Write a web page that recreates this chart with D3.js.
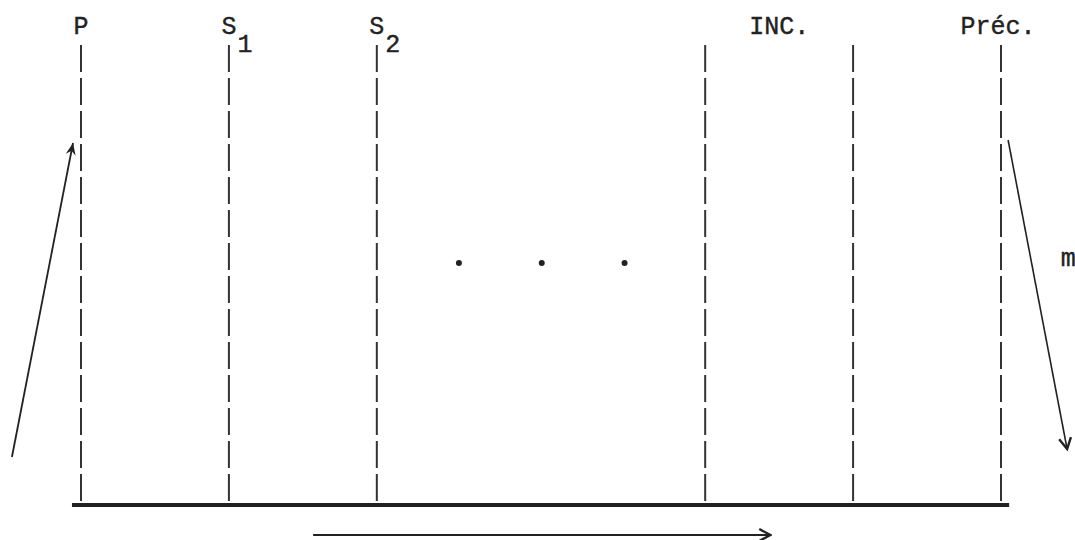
<!DOCTYPE html>
<html>
<head>
<meta charset="utf-8">
<script src="https://cdn.jsdelivr.net/npm/d3@7"></script>
<style>
  body { margin: 0; background: #fff; }
  text { font-family: "Liberation Mono", "Courier New", monospace; fill: #222; stroke: #222; stroke-width: 0.4; }
</style>
</head>
<body>
<div id="the_chart"></div>
<script>
// stage positions in slot units (0 = P), the gap after S2 holds the dots
var stageNames = ["P", "S", "S", "", "INC.", "Préc."];
var stageSubs = ["", "1", "2", "", "", ""];
var stageSlots = [0, 1, 2, 4.22, 5.22, 6.22];
var labelSlots = [0, 1, 2, 4.22, 4.72, 6.2];
var dotSlots = [2.555, 3.115, 3.675];
var dotLevel = 242;

// arrows: [x0, y0, x1, y1] in slot / height units
var arrowIn = [-0.467, 48, -0.054, 362];
var arrowOut = [6.268, 365, 6.667, 56];
var arrowTime = [1.569, -30, 4.66, -30];
var outLabel = "m";
var outLabelPos = [6.674, 239];

var w = 1075;
var h = 540;

var svg = d3.select("#the_chart")
    .append("svg")
    .attr("width", w)
    .attr("height", h);

var xscale = d3.scaleLinear()
    .domain([0, 6.22])
    .range([81, 1001]);

var yscale = d3.scaleLinear()
    .domain([0, 460])
    .range([505, 45]);

// arrow heads
var defs = svg.append("defs");
defs.append("marker")
    .attr("id", "head-fill")
    .attr("viewBox", "-13 -6 15 12")
    .attr("refX", 0).attr("refY", 0)
    .attr("markerWidth", 15).attr("markerHeight", 12)
    .attr("markerUnits", "userSpaceOnUse")
    .attr("orient", "auto")
    .append("path")
    .attr("d", "M0,0 L-12,-5 L-8,0 L-12,5 Z")
    .attr("fill", "#222");
defs.append("marker")
    .attr("id", "head-open")
    .attr("viewBox", "-13 -8 15 16")
    .attr("refX", 0).attr("refY", 0)
    .attr("markerWidth", 15).attr("markerHeight", 16)
    .attr("markerUnits", "userSpaceOnUse")
    .attr("orient", "auto")
    .append("path")
    .attr("d", "M-11,-6 L0,0 L-11,6")
    .attr("fill", "none")
    .attr("stroke", "#222")
    .attr("stroke-width", 2.4);

// dashed stage lines
svg.selectAll("line.stage")
    .data(stageSlots)
    .enter().append("line")
    .attr("class", "stage")
    .attr("x1", function(d) { return xscale(d); })
    .attr("x2", function(d) { return xscale(d); })
    .attr("y1", yscale(460))
    .attr("y2", yscale(0))
    .attr("stroke", "#333")
    .attr("stroke-width", 2)
    .attr("stroke-dasharray", "27,6");

// base line
svg.append("line")
    .attr("x1", xscale(-0.061))
    .attr("x2", xscale(6.275))
    .attr("y1", yscale(0))
    .attr("y2", yscale(0))
    .attr("stroke", "#222")
    .attr("stroke-width", 4);

// labels on top
var labels = svg.selectAll("g.lab")
    .data(stageNames)
    .enter().append("g")
    .attr("class", "lab");

labels.append("text")
    .attr("x", function(d, i) { return xscale(labelSlots[i]); })
    .attr("y", yscale(471))
    .attr("text-anchor", "middle")
    .attr("font-size", 25)
    .text(function(d) { return d; });

labels.append("text")
    .attr("x", function(d, i) { return xscale(labelSlots[i]) + 16; })
    .attr("y", yscale(453))
    .attr("text-anchor", "middle")
    .attr("font-size", 25)
    .text(function(d, i) { return stageSubs[i]; });

// the dots between S2 and INC.
svg.selectAll("circle")
    .data(dotSlots)
    .enter().append("circle")
    .attr("cx", function(d) { return xscale(d); })
    .attr("cy", yscale(dotLevel))
    .attr("r", 3)
    .attr("fill", "#222");

function arrow(a, head, sw) {
    svg.append("line")
        .attr("x1", xscale(a[0]))
        .attr("y1", yscale(a[1]))
        .attr("x2", xscale(a[2]))
        .attr("y2", yscale(a[3]))
        .attr("stroke", "#222")
        .attr("stroke-width", sw)
        .attr("marker-end", "url(#" + head + ")");
}

arrow(arrowIn, "head-fill", 1.8);
arrow(arrowOut, "head-open", 1.6);
arrow(arrowTime, "head-open", 1.8);

svg.append("text")
    .attr("x", xscale(outLabelPos[0]))
    .attr("y", yscale(outLabelPos[1]))
    .attr("text-anchor", "middle")
    .attr("font-size", 25)
    .text(outLabel);
</script>
</body>
</html>
